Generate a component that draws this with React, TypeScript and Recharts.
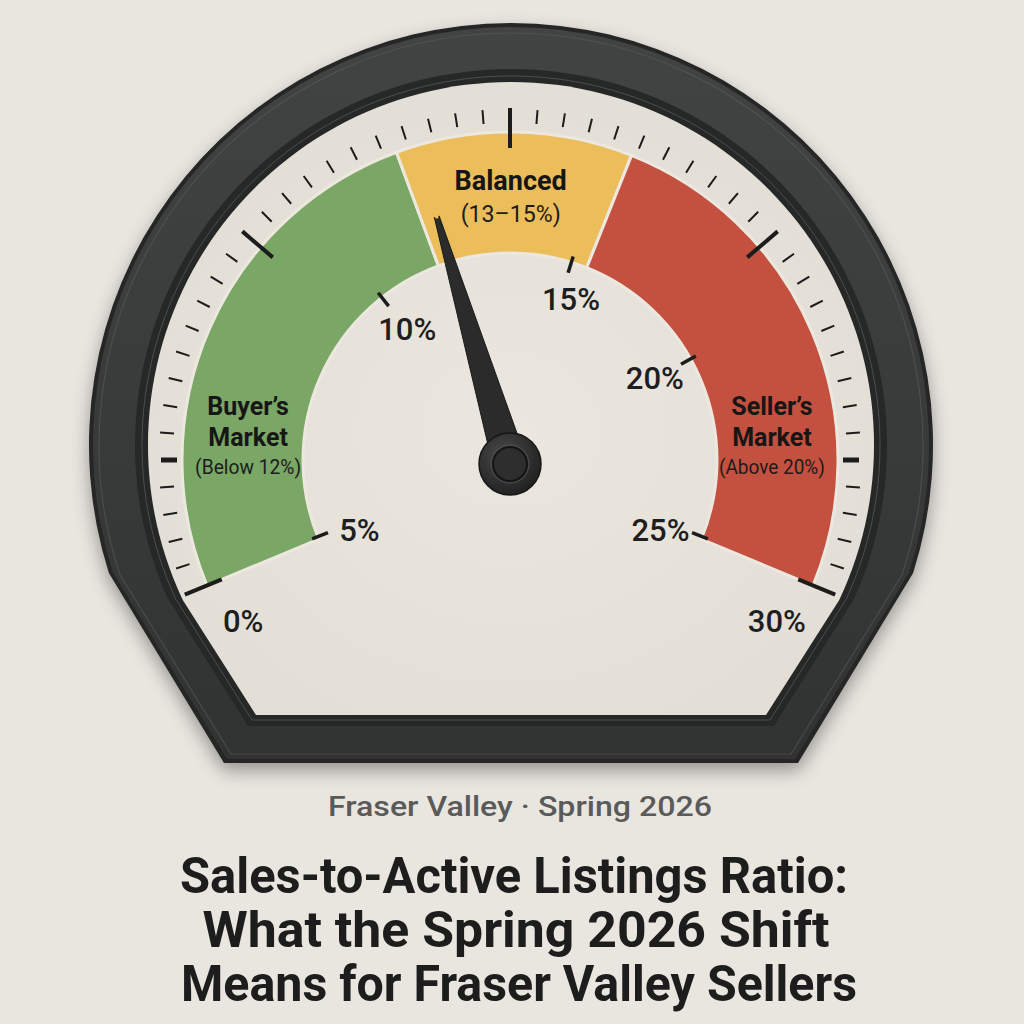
import React from 'react'
import { RadialBarChart, RadialBar, PolarAngleAxis, PolarRadiusAxis } from 'recharts'

// dial runs 0–30 % (sales-to-active listings ratio)
const scaleDomain = [0, 30]

// market zones along the dial
const zoneKeys = ['buyer', 'balanced', 'seller']
const zoneWidths = [12.3, 5.6, 12.1]
const zoneColors = ['#7aa666', '#ebbd5b', '#c4503f']
const zoneTitles = [['Buyer’s', 'Market'], ['Balanced'], ['Seller’s', 'Market']]
const zoneRanges = ['(Below 12%)', '(13–15%)', '(Above 20%)']
const zoneLabelAt = [3.7, 15.02, 26.3]

// outer ring ticks
const dialTicks = Array.from({ length: 51 }, (_, i) => Number((i * 0.6).toFixed(1)))
const longTicks = [0, 8.4, 15, 21.6, 30]
const boldTicks = [3, 27]
const endLabels = ['0%', '30%']

// inner scale labels
const scaleTickAt = [0.1, 9.9, 17.3, 23.1, 29.9]
const scaleTickLabels = ['5%', '10%', '15%', '20%', '25%']

const needleValue = 12.8

const gaugeData = [
  { name: 'ratio', ...Object.fromEntries(zoneKeys.map((k, i) => [k, zoneWidths[i]])) },
]

// one angle axis carries everything placed on the dial, in drawing order
const axisTicks = [...dialTicks, ...scaleTickAt, ...zoneLabelAt, needleValue]
const scaleStart = dialTicks.length
const zoneStart = scaleStart + scaleTickAt.length
const needleIndex = zoneStart + zoneLabelAt.length

const CX = 510
const CY = 460
const FONT = 'Roboto, "Noto Sans", sans-serif'

const rad = Math.PI / 180
const polar = (cx: number, cy: number, r: number, angle: number) => ({
  x: cx + r * Math.cos(angle * rad),
  y: cy - r * Math.sin(angle * rad),
})
const near = (list: number[], v: number) => list.some(t => Math.abs(t - v) < 0.01)

function dialTick(cx: number, cy: number, v: number, a: number) {
  const [r1, r2, w] = near(longTicks, v) ? [312, 352, 4] : near(boldTicks, v) ? [333, 349, 5] : [337, 351, 2]
  const p1 = polar(cx, cy, r1, a)
  const p2 = polar(cx, cy, r2, a)
  const endIdx = v === scaleDomain[0] ? 0 : v === scaleDomain[1] ? 1 : -1
  let label = null
  if (endIdx >= 0) {
    const lp = polar(cx, cy, 312, a + (endIdx === 0 ? 8.7 : -8.7))
    label = (
      <text x={lp.x} y={lp.y} textAnchor="middle" dominantBaseline="central"
        fontFamily={FONT} fontSize={31} fontWeight={500} fill="#1e1e1e">
        {endLabels[endIdx]}
      </text>
    )
  }
  return (
    <g>
      <line x1={p1.x} y1={p1.y} x2={p2.x} y2={p2.y} stroke="#1c1c1c" strokeWidth={w} />
      {label}
    </g>
  )
}

function scaleTick(cx: number, cy: number, i: number, a: number) {
  const p1 = polar(cx, cy, 196, a)
  const p2 = polar(cx, cy, 213, a)
  // labels at the two ends sit a little below their ticks
  const la = a > 180 ? a + 3.2 : a < 0 ? a - 3.2 : a > 60 && a < 90 ? a - 3.5 : a
  const lp = polar(cx, cy, i === 2 ? 172 : 166, la)
  return (
    <g>
      <line x1={p1.x} y1={p1.y} x2={p2.x} y2={p2.y} stroke="#1c1c1c" strokeWidth={3.5} />
      <text x={lp.x} y={lp.y} textAnchor="middle" dominantBaseline="central"
        fontFamily={FONT} fontSize={31} fontWeight={500} fill="#1e1e1e">
        {scaleTickLabels[i]}
      </text>
    </g>
  )
}

function zoneLabel(cx: number, cy: number, i: number, a: number) {
  const p = polar(cx, cy, 263, a)
  const titles = zoneTitles[i]
  const big = titles.length === 1
  const gaps = [...titles.slice(1).map(() => 31), big ? 32 : 28]
  const total = gaps.reduce((s, g) => s + g, 0)
  let y = p.y + 8.5 - total / 2
  const lines: any[] = []
  titles.forEach((t, j) => {
    lines.push(
      <text key={'t' + j} x={p.x} y={y} textAnchor="middle" fontFamily={FONT}
        fontSize={big ? 27 : 25} fontWeight={700} fill="#161616">{t}</text>
    )
    y += gaps[j]
  })
  lines.push(
    <text key="r" x={p.x} y={y} textAnchor="middle" fontFamily={FONT}
      fontSize={big ? 23 : 21} fontWeight={400} fill="#1c1c1c"
      textLength={big ? 100 : 106} lengthAdjust="spacingAndGlyphs">{zoneRanges[i]}</text>
  )
  return <g>{lines}</g>
}

function needle(cx: number, cy0: number, a: number) {
  const cy = cy0 + 4
  const tip = polar(cx, cy, 258, a)
  const n = { x: Math.cos((a + 90) * rad), y: -Math.sin((a + 90) * rad) }
  const bw = 17
  const tw = 2.5
  const d = `M ${cx + n.x * bw} ${cy + n.y * bw} L ${tip.x + n.x * tw} ${tip.y + n.y * tw}
    A ${tw} ${tw} 0 0 0 ${tip.x - n.x * tw} ${tip.y - n.y * tw}
    L ${cx - n.x * bw} ${cy - n.y * bw} Z`
  return (
    <g>
      <defs>
        <radialGradient id="hubGrad" cx="40%" cy="35%" r="70%">
          <stop offset="0%" stopColor="#4a4a4a" />
          <stop offset="100%" stopColor="#1f1f1f" />
        </radialGradient>
      </defs>
      <path d={d} fill="#2b2b2b" stroke="#1a1a1a" strokeWidth={1} />
      <circle cx={cx} cy={cy} r={31} fill="url(#hubGrad)" stroke="#161616" strokeWidth={1.5} />
      <circle cx={cx} cy={cy} r={17} fill="#2e2e2e" stroke="#151515" strokeWidth={2} />
      <circle cx={cx} cy={cy} r={19} fill="none" stroke="#505050" strokeWidth={1} />
    </g>
  )
}

function DialMark(props: any) {
  const { payload, index } = props
  const cx = Number(props.cx ?? CX)
  const cy = Number(props.cy ?? CY)
  const a = payload.coordinate
  if (index < scaleStart) return dialTick(cx, cy, Number(payload.value), a)
  if (index < zoneStart) return scaleTick(cx, cy, index - scaleStart, a)
  if (index < needleIndex) return zoneLabel(cx, cy, index - zoneStart, a)
  return needle(cx, cy, a)
}

// bezel outline: circle top, chamfered flat bottom
const BX = 511
const BY = 445
function framePath(R: number, bottom: number, halfW: number, joinY: number) {
  const dx = Math.sqrt(R * R - (joinY - BY) * (joinY - BY))
  return `M ${BX - halfW} ${bottom} L ${BX - dx} ${joinY} A ${R} ${R} 0 1 1 ${BX + dx} ${joinY} L ${BX + halfW} ${bottom} Z`
}

function Backdrop() {
  return (
    <svg width={1024} height={1024} style={{ position: 'absolute', left: 0, top: 0 }}>
      <defs>
        <filter id="shadow" x="-10%" y="-10%" width="120%" height="130%">
          <feDropShadow dx="0" dy="8" stdDeviation="9" floodColor="#000" floodOpacity="0.35" />
        </filter>
        <linearGradient id="bezelGrad" x1="0" y1="0" x2="0" y2="1">
          <stop offset="0%" stopColor="#424343" />
          <stop offset="60%" stopColor="#383939" />
          <stop offset="100%" stopColor="#313232" />
        </linearGradient>
        <radialGradient id="faceGrad" cx="50%" cy="55%" r="60%">
          <stop offset="0%" stopColor="#ebe7df" />
          <stop offset="100%" stopColor="#e2ded5" />
        </radialGradient>
      </defs>
      <rect width={1024} height={1024} fill="#e9e6e0" />
      <path d={framePath(422, 763, 287, 573)} fill="#252626" filter="url(#shadow)" />
      <path d={framePath(418, 759, 284, 573)} fill="url(#bezelGrad)" />
      <path d={framePath(412, 754, 280, 575)} fill="none" stroke="#5a5b5b" strokeWidth={1.2} opacity={0.6} />
      <path d={framePath(376, 726, 263, 598)} fill="#262727" />
      <path d={framePath(369, 720, 259, 599)} fill="none" stroke="#4c4d4d" strokeWidth={1} />
      <path d={framePath(363, 715, 255, 600)} fill="url(#faceGrad)" />
      <text x={520} y={816} textAnchor="middle" fontFamily={FONT} fontSize={27} fontWeight={500}
        fill="#5a5a5a" textLength={384} lengthAdjust="spacingAndGlyphs">
        Fraser Valley · Spring 2026
      </text>
      <text x={514} y={893} textAnchor="middle" fontFamily={FONT} fontSize={50} fontWeight={700}
        fill="#1d1d1d" textLength={668} lengthAdjust="spacingAndGlyphs">
        Sales-to-Active Listings Ratio:
      </text>
      <text x={516} y={947} textAnchor="middle" fontFamily={FONT} fontSize={50} fontWeight={700}
        fill="#1d1d1d" textLength={627} lengthAdjust="spacingAndGlyphs">
        What the Spring 2026 Shift
      </text>
      <text x={519} y={1001} textAnchor="middle" fontFamily={FONT} fontSize={50} fontWeight={700}
        fill="#1d1d1d" textLength={676} lengthAdjust="spacingAndGlyphs">
        Means for Fraser Valley Sellers
      </text>
    </svg>
  )
}

export default function App() {
  return (
    <div style={{ position: 'absolute', left: 0, top: 0, width: 1024, height: 1024, overflow: 'hidden' }}>
      <Backdrop />
      <div style={{ position: 'absolute', left: 0, top: 0 }}>
        <RadialBarChart
          width={1024}
          height={1024}
          data={gaugeData}
          cx={CX}
          cy={CY}
          innerRadius={207}
          outerRadius={328}
          startAngle={202.5}
          endAngle={-22.5}
          barCategoryGap={0}
          margin={{ top: 0, right: 0, bottom: 0, left: 0 }}
        >
          <PolarRadiusAxis type="category" dataKey="name" tick={false} axisLine={false} />
          {zoneKeys.map((k, i) => (
            <RadialBar
              key={k}
              dataKey={k}
              stackId="zones"
              fill={zoneColors[i]}
              stroke="#ece8df"
              strokeWidth={3}
              isAnimationActive={false}
            />
          ))}
          <PolarAngleAxis type="number" domain={scaleDomain} ticks={axisTicks}
            tick={<DialMark />} tickLine={false} axisLine={false} />
        </RadialBarChart>
      </div>
    </div>
  )
}
